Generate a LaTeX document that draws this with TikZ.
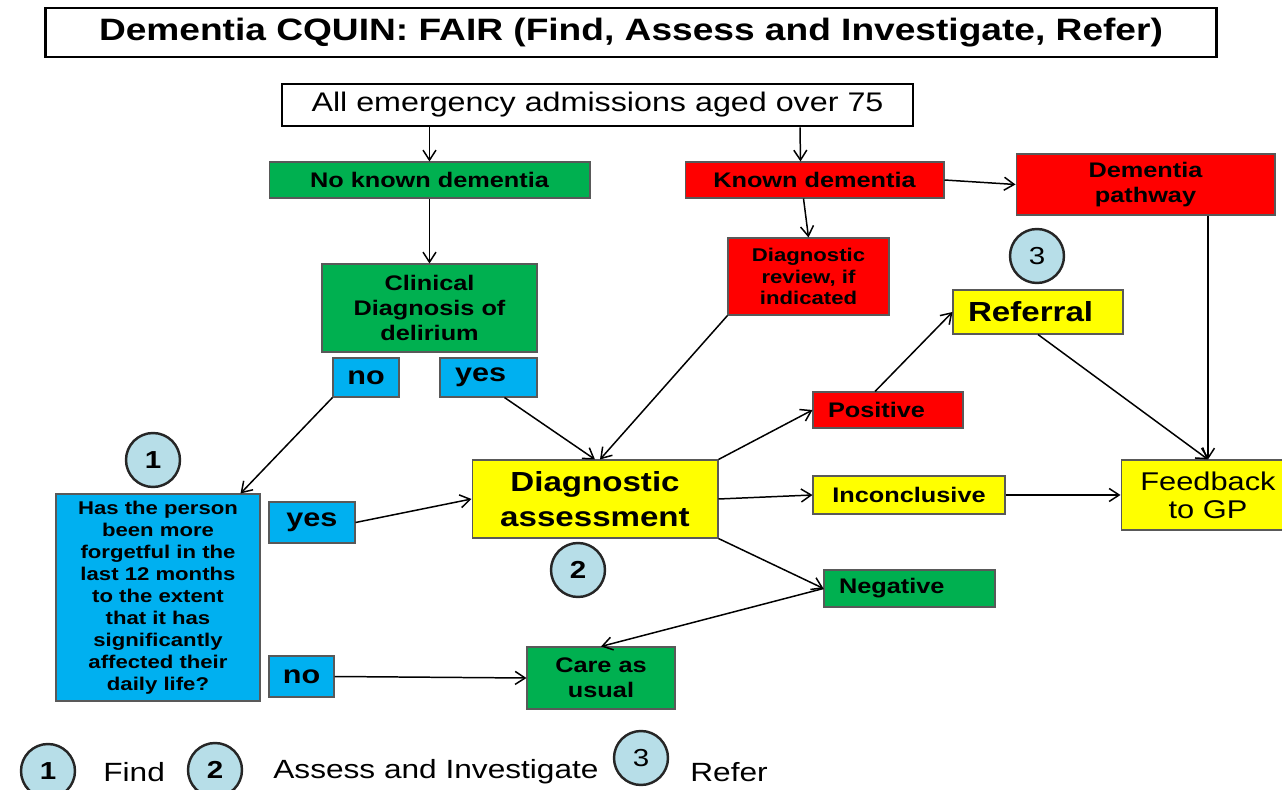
\documentclass[tikz,border=0pt]{standalone}
\usepackage{fontspec}
\setmainfont[FakeStretch=1.2]{Liberation Sans}
\usetikzlibrary{arrows.meta}
\usetikzlibrary{calc}

\definecolor{fairgreen}{HTML}{00B050}
\definecolor{fairred}{HTML}{FF0000}
\definecolor{fairblue}{HTML}{00B0F0}
\definecolor{fairyellow}{HTML}{FFFF00}
\definecolor{stepcircle}{HTML}{B7DEE8}

\begin{document}
\begin{tikzpicture}[x=0.02cm, y=-0.02cm]

% Define styles
\tikzset{
    box/.style={draw=black!65, line width=0.6pt, inner sep=0pt, align=center,
        font=\fontsize{12}{14}\selectfont\bfseries},
    greenbox/.style={box, fill=fairgreen},
    redbox/.style={box, fill=fairred},
    bluebox/.style={box, fill=fairblue},
    yellowbox/.style={box, fill=fairyellow},
    answer/.style={bluebox, font=\fontsize{14.5}{16}\selectfont\bfseries},
    leftpad/.style={align=left, inner xsep=0.3cm, text width=#1},
    numcircle/.style={circle, draw=black!85, line width=1.4pt, fill=stepcircle,
        minimum size=1.08cm, inner sep=0pt, font=\fontsize{14}{14}\selectfont\bfseries},
    legendtext/.style={anchor=west, inner sep=0pt, font=\fontsize{15}{16}\selectfont},
    flow/.style={-{Straight Barb[length=2mm, width=2.6mm]}, line width=0.85pt}
}

% page as large as the reference
\useasboundingbox (0,0) rectangle (1282,790);

% header boxes
\node[draw, line width=1.6pt, inner sep=0pt, minimum width=23.44cm, minimum height=0.98cm,
    font=\fontsize{17.6}{20}\selectfont\bfseries] (title) at (631,32.5)
    {Dementia CQUIN: FAIR (Find, Assess and Investigate, Refer)};
\node[draw, line width=1.6pt, inner sep=0pt, minimum width=12.62cm, minimum height=0.84cm,
    font=\fontsize{15.3}{18}\selectfont] (admit) at (597.5,105)
    {All emergency admissions aged over 75};

% no known dementia branch
\node[greenbox, minimum width=6.42cm, minimum height=0.72cm] (nokd) at (429.5,180) {No known dementia};
\node[greenbox, minimum width=4.3cm, minimum height=1.76cm] (clin) at (429.5,308) {Clinical\\Diagnosis of\\delirium};
\node[answer, minimum width=1.32cm, minimum height=0.78cm] (delno) at (366,377.5) {no};
\node[answer, minimum height=0.78cm, leftpad=1.34cm] (delyes) at (488.5,377.5) {yes};

% known dementia branch
\node[redbox, minimum width=5.18cm, minimum height=0.72cm] (kd) at (814.5,180) {Known dementia};
\node[redbox, minimum width=5.18cm, minimum height=1.22cm,
    font=\fontsize{12}{14.7}\selectfont\bfseries] (dpath) at (1145.5,184.5) {Dementia\\pathway};
\node[redbox, minimum width=3.22cm, minimum height=1.54cm,
    font=\fontsize{10.5}{12.2}\selectfont\bfseries] (drev) at (808.5,276.5) {Diagnostic\\review, if\\indicated};

% find
\node[numcircle] (find) at (153,460) {1};
\node[bluebox, minimum width=4.08cm, minimum height=4.14cm,
    font=\fontsize{10.5}{12.5}\selectfont\bfseries] (forget) at (158,597.5)
    {Has the person\\been more\\forgetful in the\\last 12 months\\to the extent\\that it has\\significantly\\affected their\\daily life?};
\node[answer, minimum width=1.72cm, minimum height=0.82cm] (fgyes) at (312,522.5) {yes};
\node[answer, minimum width=1.3cm, minimum height=0.82cm] (fgno) at (301.5,676.5) {no};

% assess and investigate
\node[yellowbox, minimum width=4.92cm, minimum height=1.56cm,
    font=\fontsize{15.7}{20}\selectfont\bfseries] (dass) at (595,499) {Diagnostic\\assessment};
\node[numcircle] (assess) at (578,570) {2};
\node[redbox, minimum height=0.72cm, leftpad=2.4cm] (pos) at (888,410) {Positive};
\node[yellowbox, minimum width=3.84cm, minimum height=0.76cm] (inc) at (909,495) {Inconclusive};
\node[greenbox, minimum height=0.74cm, leftpad=2.82cm] (neg) at (909.5,588.5) {Negative};
\node[greenbox, minimum width=2.96cm, minimum height=1.24cm,
    font=\fontsize{12}{14}\selectfont\bfseries] (care) at (601,678) {Care as\\usual};

% refer
\node[numcircle, font=\fontsize{14}{14}\selectfont] (refer) at (1037,256) {3};
\node[yellowbox, minimum height=0.88cm, leftpad=2.8cm,
    font=\fontsize{15.7}{18}\selectfont\bfseries] (ref) at (1038,312) {Referral};
\node[yellowbox, minimum width=3.48cm, minimum height=1.4cm,
    font=\fontsize{14.6}{16}\selectfont] (fb) at (1208,495) {Feedback\\to GP};

% arrows
\draw[flow] (nokd.north |- admit.south) -- (nokd.north);
\draw[flow] ($(admit.south)+(202.5,0)$) -- ($(kd.north)+(-14,0)$);
\draw[flow] (kd.east) -- (dpath.west);
\draw[flow] ($(kd.south)+(-11,0)$) -- (drev.north);
\draw[flow] (nokd.south) -- (clin.north);
\draw[flow] (delno.south west) -- ($(forget.north east)+(-20,0)$);
\draw[flow] ($(delyes.south)+(16,0)$) -- (dass.north);
\draw[flow] (drev.south west) -- ($(dass.north)+(5,0)$);
\draw[flow] (fgyes.east) -- (dass.west);
\draw[flow] (fgno.east) -- (care.west);
\draw[flow] (dass.north east) -- (pos.west);
\draw[flow] ($(pos.north)+(-13,0)$) -- (ref.west);
\draw[flow] (dass.east) -- (inc.west);
\draw[flow] (inc.east) -- (fb.west);
\draw[flow] (dass.south east) -- (neg.west);
\draw[flow] (neg.west) -- (care.north);
\draw[flow] (ref.south) -- (fb.north);
\draw[flow] (fb.north |- dpath.south) -- (fb.north);

% legend
\node[numcircle] (leg1) at (48,771) {1};
\node[legendtext] (legfind) at (103,772) {Find};
\node[numcircle] (leg2) at (215,770) {2};
\node[legendtext] (legassess) at (273,772) {Assess and Investigate};
\node[numcircle, font=\fontsize{14}{14}\selectfont] (leg3) at (641,758) {3};
\node[legendtext] (legrefer) at (690,772) {Refer};

\end{tikzpicture}
\end{document}
